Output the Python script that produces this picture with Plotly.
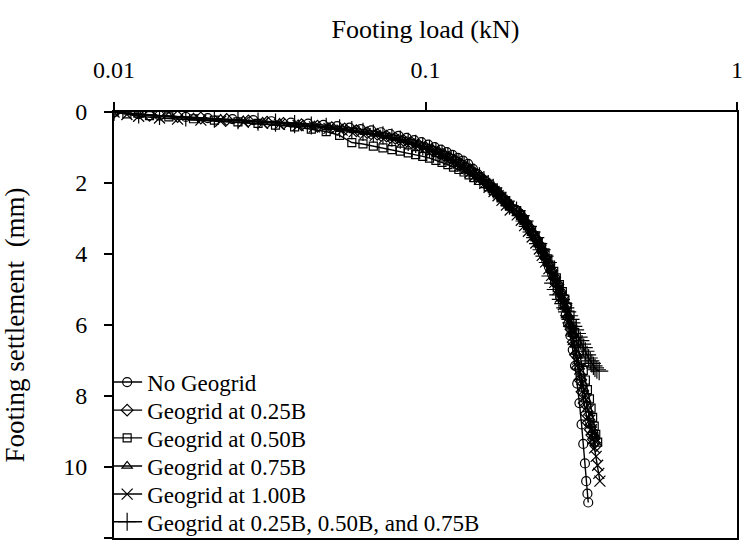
import plotly.graph_objects as go

# Footing load (kN) and settlement (mm) for each reinforcement layout
load_none = [0.010, 0.012, 0.014, 0.017, 0.020, 0.024, 0.028, 0.032,
             0.037, 0.042, 0.047, 0.052, 0.057, 0.062, 0.067, 0.072, 0.077, 0.082,
             0.087, 0.092, 0.097, 0.102, 0.107, 0.112, 0.117, 0.122, 0.127, 0.132,
             0.137, 0.142, 0.147, 0.152, 0.158, 0.163, 0.168, 0.174, 0.179, 0.184,
             0.194, 0.200, 0.205, 0.211, 0.216, 0.222, 0.228, 0.233, 0.238, 0.244,
             0.249, 0.255, 0.261, 0.266, 0.271, 0.277, 0.282, 0.287, 0.292, 0.297,
             0.302, 0.307, 0.312, 0.317, 0.321, 0.325, 0.328, 0.331, 0.333]
settle_none = [0.00, 0.06, 0.10, 0.14, 0.17, 0.20, 0.23, 0.26,
               0.30, 0.33, 0.36, 0.40, 0.44, 0.48, 0.52, 0.57, 0.62, 0.67,
               0.73, 0.79, 0.85, 0.92, 0.99, 1.06, 1.13, 1.21, 1.29, 1.37,
               1.46, 1.60, 1.75, 1.90, 2.03, 2.15, 2.27, 2.38, 2.50, 2.62,
               2.75, 2.88, 3.02, 3.16, 3.31, 3.46, 3.62, 3.80, 3.98, 4.17,
               4.36, 4.56, 4.77, 4.99, 5.22, 5.46, 5.71, 5.97, 6.30, 6.70,
               7.15, 7.65, 8.20, 8.80, 9.35, 9.90, 10.40, 10.75, 11.00]

load_025 = [0.010, 0.013, 0.016, 0.019, 0.023, 0.027, 0.031, 0.035,
            0.040, 0.045, 0.050, 0.055, 0.060, 0.065, 0.070, 0.075, 0.080, 0.085,
            0.090, 0.095, 0.100, 0.105, 0.110, 0.115, 0.120, 0.125, 0.130, 0.135,
            0.140, 0.145, 0.151, 0.156, 0.161, 0.167, 0.172, 0.177, 0.183, 0.188,
            0.199, 0.205, 0.210, 0.216, 0.221, 0.227, 0.233, 0.238, 0.243, 0.249,
            0.254, 0.260, 0.266, 0.271, 0.276, 0.282, 0.287, 0.293, 0.298, 0.303,
            0.308, 0.313, 0.318, 0.323, 0.328, 0.333, 0.338, 0.342, 0.346, 0.349, 0.352]
settle_025 = [0.00, 0.09, 0.13, 0.17, 0.21, 0.25, 0.29, 0.32,
              0.36, 0.40, 0.44, 0.48, 0.53, 0.58, 0.63, 0.68, 0.74, 0.80,
              0.86, 0.93, 1.00, 1.07, 1.14, 1.22, 1.30, 1.38, 1.47, 1.56,
              1.65, 1.75, 1.85, 1.96, 2.07, 2.18, 2.30, 2.42, 2.55, 2.68,
              2.82, 2.96, 3.11, 3.26, 3.42, 3.58, 3.75, 3.92, 4.10, 4.28,
              4.47, 4.66, 4.86, 5.06, 5.20, 5.45, 5.78, 6.12, 6.48, 6.84,
              7.20, 7.55, 7.88, 8.20, 8.50, 8.75, 8.95, 9.10, 9.22, 9.32, 9.40]

load_050 = [0.010, 0.011, 0.013, 0.015, 0.018, 0.021, 0.025, 0.029, 0.033,
            0.038, 0.043, 0.048, 0.053, 0.058, 0.063, 0.068, 0.073, 0.078, 0.083,
            0.088, 0.093, 0.098, 0.103, 0.108, 0.113, 0.118, 0.123, 0.128, 0.133,
            0.138, 0.143, 0.148, 0.154, 0.159, 0.165, 0.170, 0.175, 0.181, 0.186,
            0.196, 0.202, 0.207, 0.213, 0.219, 0.225, 0.230, 0.236, 0.242, 0.247,
            0.252, 0.258, 0.263, 0.269, 0.275, 0.280, 0.285, 0.291, 0.296, 0.301,
            0.306, 0.311, 0.316, 0.321, 0.326, 0.331, 0.336, 0.340, 0.344, 0.348,
            0.352, 0.357]
settle_050 = [0.00, 0.05, 0.10, 0.14, 0.19, 0.23, 0.28, 0.32, 0.37,
              0.42, 0.48, 0.55, 0.66, 0.86, 0.90, 0.96, 1.01, 1.06, 1.10,
              1.15, 1.20, 1.25, 1.30, 1.36, 1.42, 1.48, 1.55, 1.62, 1.69,
              1.77, 1.85, 1.93, 2.02, 2.11, 2.21, 2.31, 2.42, 2.53, 2.65,
              2.78, 2.91, 3.05, 3.19, 3.34, 3.49, 3.65, 3.81, 3.97, 4.14,
              4.31, 4.49, 4.67, 4.86, 5.06, 5.27, 5.49, 5.72, 5.96, 6.21,
              6.47, 6.74, 7.01, 7.28, 7.55, 7.82, 8.08, 8.34, 8.60, 8.85,
              9.08, 9.30]

load_075 = [0.010, 0.012, 0.015, 0.018, 0.022, 0.026, 0.030, 0.034,
            0.039, 0.044, 0.049, 0.054, 0.059, 0.064, 0.069, 0.074, 0.079, 0.084,
            0.089, 0.094, 0.099, 0.104, 0.109, 0.114, 0.119, 0.124, 0.129, 0.134,
            0.139, 0.144, 0.150, 0.155, 0.160, 0.166, 0.171, 0.176, 0.182, 0.187,
            0.197, 0.203, 0.209, 0.214, 0.220, 0.226, 0.231, 0.237, 0.243, 0.248,
            0.254, 0.259, 0.265, 0.271, 0.276, 0.281, 0.287, 0.292, 0.297, 0.302,
            0.307, 0.312, 0.317, 0.322, 0.327, 0.332, 0.337, 0.341, 0.345, 0.348, 0.350]
settle_075 = [0.00, 0.08, 0.12, 0.16, 0.20, 0.24, 0.28, 0.31,
              0.35, 0.39, 0.43, 0.47, 0.52, 0.57, 0.62, 0.67, 0.73, 0.79,
              0.85, 0.92, 0.99, 1.06, 1.13, 1.21, 1.29, 1.37, 1.46, 1.55,
              1.64, 1.74, 1.84, 1.95, 2.06, 2.17, 2.29, 2.41, 2.54, 2.67,
              2.81, 2.95, 3.10, 3.25, 3.41, 3.57, 3.74, 3.91, 4.09, 4.27,
              4.46, 4.65, 4.85, 5.05, 5.26, 5.48, 5.72, 5.98, 6.26, 6.56,
              6.87, 7.18, 7.49, 7.80, 8.10, 8.38, 8.62, 8.82, 8.97, 9.08, 9.15]

load_100 = [0.010, 0.011, 0.012, 0.014, 0.016, 0.019, 0.022, 0.026, 0.030, 0.034,
            0.039, 0.044, 0.049, 0.054, 0.059, 0.064, 0.069, 0.074, 0.079, 0.084,
            0.089, 0.094, 0.099, 0.104, 0.109, 0.114, 0.119, 0.124, 0.129, 0.134,
            0.139, 0.144, 0.149, 0.155, 0.160, 0.166, 0.171, 0.176, 0.182, 0.187,
            0.197, 0.203, 0.208, 0.214, 0.220, 0.226, 0.232, 0.237, 0.243, 0.249,
            0.254, 0.260, 0.266, 0.271, 0.277, 0.283, 0.288, 0.293, 0.298, 0.303,
            0.308, 0.313, 0.318, 0.323, 0.328, 0.333, 0.337, 0.341, 0.345, 0.349,
            0.353, 0.357, 0.360, 0.363]
settle_100 = [0.00, 0.07, 0.12, 0.17, 0.20, 0.23, 0.26, 0.29, 0.32, 0.35,
              0.38, 0.42, 0.46, 0.51, 0.56, 0.61, 0.66, 0.72, 0.78, 0.84,
              0.90, 0.97, 1.04, 1.11, 1.18, 1.26, 1.34, 1.42, 1.51, 1.60,
              1.70, 1.80, 1.90, 2.01, 2.12, 2.24, 2.36, 2.49, 2.62, 2.76,
              2.90, 3.05, 3.20, 3.36, 3.52, 3.69, 3.86, 4.04, 4.22, 4.41,
              4.60, 4.80, 5.00, 5.21, 5.43, 5.66, 5.90, 6.15, 6.41, 6.68,
              6.96, 7.24, 7.53, 7.82, 8.11, 8.40, 8.68, 8.95, 9.21, 9.46,
              9.70, 9.95, 10.18, 10.40]

load_multi = [0.010, 0.012, 0.014, 0.017, 0.021, 0.025, 0.029, 0.033,
              0.038, 0.043, 0.048, 0.053, 0.058, 0.063, 0.068, 0.073, 0.078, 0.083,
              0.088, 0.093, 0.098, 0.103, 0.108, 0.113, 0.118, 0.123, 0.128, 0.133,
              0.138, 0.143, 0.149, 0.154, 0.159, 0.165, 0.170, 0.175, 0.181, 0.186,
              0.196, 0.202, 0.208, 0.213, 0.219, 0.225, 0.230, 0.236, 0.241, 0.247,
              0.252, 0.257, 0.262, 0.267, 0.272, 0.277, 0.281, 0.285, 0.289, 0.292,
              0.294, 0.298, 0.302, 0.306, 0.310, 0.314, 0.318, 0.322, 0.326, 0.330,
              0.334, 0.338, 0.342, 0.346, 0.350, 0.355, 0.361]
settle_multi = [0.00, 0.07, 0.11, 0.15, 0.19, 0.23, 0.27, 0.30,
                0.34, 0.38, 0.42, 0.46, 0.51, 0.56, 0.61, 0.66, 0.72, 0.78,
                0.84, 0.90, 0.97, 1.04, 1.11, 1.18, 1.26, 1.34, 1.43, 1.52,
                1.61, 1.71, 1.81, 1.92, 2.03, 2.14, 2.26, 2.38, 2.51, 2.64,
                2.78, 2.92, 3.07, 3.22, 3.38, 3.54, 3.71, 3.88, 4.06, 4.24,
                4.62, 4.82, 5.00, 5.15, 5.28, 5.40, 5.52, 5.63, 5.74, 5.84,
                5.94, 6.04, 6.14, 6.24, 6.34, 6.44, 6.54, 6.64, 6.74, 6.84,
                6.93, 7.01, 7.08, 7.15, 7.21, 7.26, 7.30]

series_names = ["No Geogrid", "Geogrid at 0.25B", "Geogrid at 0.50B",
                "Geogrid at 0.75B", "Geogrid at 1.00B",
                "Geogrid at 0.25B, 0.50B, and 0.75B"]
series_loads = [load_none, load_025, load_050, load_075, load_100, load_multi]
series_settles = [settle_none, settle_025, settle_050, settle_075, settle_100, settle_multi]
series_symbols = ["circle-open", "diamond-open", "square-open",
                  "triangle-up-open", "x-thin-open", "cross-thin-open"]
series_sizes = [9, 9, 8, 9, 11, 13]

SERIF = "Liberation Serif, Times New Roman, serif"

fig = go.Figure()
legend_ids = ["legend", "legend2", "legend3", "legend4", "legend5", "legend6"]
for name, xs, ys, sym, sz, lg in zip(series_names, series_loads, series_settles,
                                     series_symbols, series_sizes, legend_ids):
    fig.add_trace(go.Scatter(
        x=xs, y=ys, name=name, mode="lines+markers", legend=lg,
        line=dict(color="black", width=1.4),
        marker=dict(symbol=sym, size=sz, color="black",
                    line=dict(color="black", width=1.2)),
    ))

# one compact legend box per series, stacked in the lower-left corner
legend_rows = [0.366, 0.300, 0.235, 0.169, 0.103, 0.038]
legend_style = dict(
    x=-0.011, xanchor="left", yanchor="middle",
    bgcolor="rgba(0,0,0,0)", borderwidth=0,
    font=dict(family=SERIF, size=23, color="black"),
    itemwidth=30,
)
layout_legends = {lg: dict(legend_style, y=yy) for lg, yy in zip(legend_ids, legend_rows)}

fig.update_layout(
    width=743, height=550,
    margin=dict(l=114, r=0, t=112, b=12),
    paper_bgcolor="white", plot_bgcolor="white",
    font=dict(family=SERIF, color="black"),
    showlegend=True,
    **layout_legends,
)

fig.update_xaxes(
    type="log", side="top", range=[-2, 0],
    tickvals=[0.01, 0.1, 1], ticktext=["0.01", "0.1", "1"],
    ticks="outside", ticklen=8, tickwidth=2, tickcolor="black",
    showline=True, linewidth=2, linecolor="black", mirror=True,
    showgrid=False, zeroline=False,
    tickfont=dict(family=SERIF, size=24, color="black"),
    ticklabelstandoff=14, ticklabeloverflow="allow",
    title=dict(text="Footing load (kN)", standoff=11,
               font=dict(family=SERIF, size=26, color="black")),
)

fig.update_yaxes(
    range=[12, 0], tickvals=[0, 2, 4, 6, 8, 10, 12],
    ticks="outside", ticklen=8, tickwidth=2, tickcolor="black",
    showline=True, linewidth=2, linecolor="black", mirror=True,
    showgrid=False, zeroline=False,
    tickfont=dict(family=SERIF, size=24, color="black"),
    ticklabelstandoff=12,
    title=dict(text="Footing settlement  (mm)", standoff=33,
               font=dict(family=SERIF, size=27, color="black")),
)

fig.write_html("out.html")
